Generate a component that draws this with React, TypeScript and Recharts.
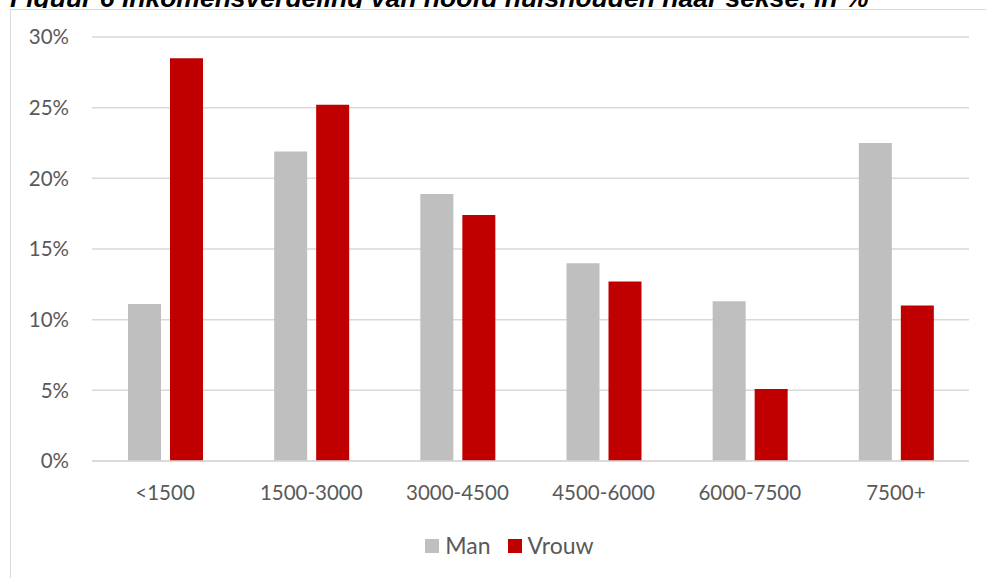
import { BarChart, Bar, XAxis, YAxis, CartesianGrid, Legend } from "recharts";

const categories = ["<1500", "1500-3000", "3000-4500", "4500-6000", "6000-7500", "7500+"];
const manValues = [11.1, 21.9, 18.9, 14.0, 11.3, 22.5];
const vrouwValues = [28.5, 25.2, 17.4, 12.7, 5.1, 11.0];
const yTicks = [0, 5, 10, 15, 20, 25, 30];

const TITLE = "Figuur 6 Inkomensverdeling van hoofd huishouden naar sekse, in %";
const MAN_COLOR = "#BFBFBF";
const VROUW_COLOR = "#C00000";
const GRID = "#D9D9D9";
const TEXT = "#595959";
const FONT = "Lato, 'Open Sans', sans-serif";

const data = categories.map((label, i) => ({
  label,
  Man: manValues[i],
  Vrouw: vrouwValues[i]
}));

function LegendContent() {
  const item = (color: string, name: string, gap: number) => (
    <span style={{ display: "inline-flex", alignItems: "center", marginRight: gap }}>
      <span style={{ display: "inline-block", width: 14, height: 14, background: color, marginRight: 6 }} />
      <span>{name}</span>
    </span>
  );
  // legend box starts at margin.left, so pad it to centre on the whole chart
  return (
    <div
      style={{
        display: "flex",
        justifyContent: "center",
        alignItems: "center",
        paddingLeft: 28,
        fontFamily: FONT,
        fontSize: 23,
        color: TEXT,
        lineHeight: "25px"
      }}
    >
      {item(MAN_COLOR, "Man", 17)}
      {item(VROUW_COLOR, "Vrouw", 0)}
    </div>
  );
}

export default function App() {
  return (
    <div style={{ position: "fixed", left: 0, top: 0, width: 986, height: 578, overflow: "hidden", background: "#fff" }}>
      {/* the title is cut off by the top of the page, as in the source */}
      <svg width={986} height={7.5} style={{ position: "absolute", left: 0, top: 0 }}>
        <text
          x={10}
          y={6.5}
          fontFamily="'Liberation Sans', Arial, sans-serif"
          fontWeight="bold"
          fontStyle="italic"
          fontSize={26.5}
          fill="#000"
        >
          {TITLE}
        </text>
      </svg>
      <div
        style={{
          position: "absolute",
          left: 10,
          top: 9,
          width: 1100,
          height: 700,
          borderLeft: `1px solid ${GRID}`,
          borderTop: `1px solid ${GRID}`
        }}
      />
      <div style={{ position: "absolute", left: 0, top: 0 }}>
        <BarChart
          width={1019}
          height={578}
          data={data}
          margin={{ top: 37, right: 50, left: 22, bottom: 20 }}
          barSize={33}
          barGap={9}
        >
          <CartesianGrid vertical={false} stroke={GRID} strokeWidth={1.5} />
          <XAxis
            dataKey="label"
            height={72}
            axisLine={{ stroke: GRID, strokeWidth: 1.5 }}
            tickLine={false}
            tickSize={0}
            tickMargin={24}
            tick={{ fill: TEXT, fontSize: 20.5, fontFamily: FONT }}
          />
          <YAxis
            domain={[0, 30]}
            ticks={yTicks}
            width={70}
            axisLine={false}
            tickLine={false}
            tickSize={0}
            tickMargin={23}
            tickFormatter={(v) => `${v}%`}
            tick={{ fill: TEXT, fontSize: 20.5, fontFamily: FONT }}
          />
          <Legend verticalAlign="bottom" height={25} content={<LegendContent />} />
          <Bar dataKey="Man" fill={MAN_COLOR} isAnimationActive={false} />
          <Bar dataKey="Vrouw" fill={VROUW_COLOR} isAnimationActive={false} />
        </BarChart>
      </div>
    </div>
  );
}
